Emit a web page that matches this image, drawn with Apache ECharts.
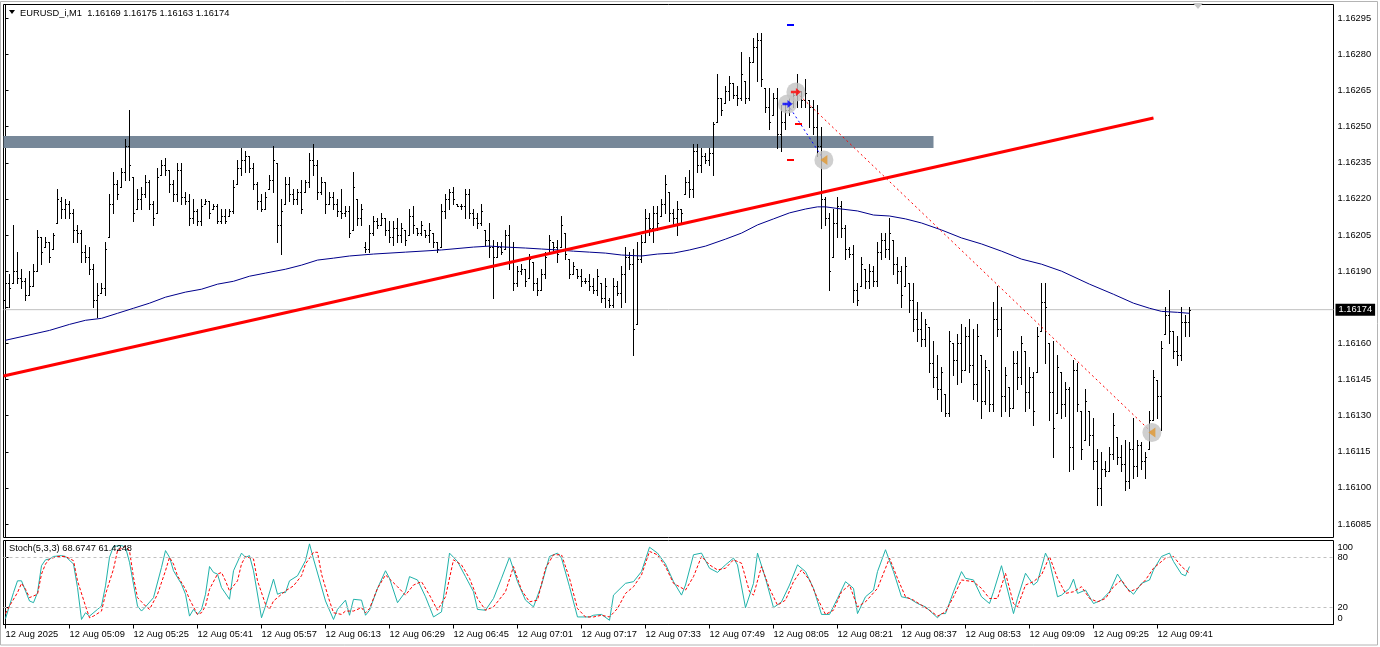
<!DOCTYPE html>
<html><head><meta charset="utf-8">
<script src="https://cdn.jsdelivr.net/npm/echarts@6.0.0/dist/echarts.min.js"></script>
<style>html,body{margin:0;padding:0;background:#fff}#c{width:1380px;height:647px}</style>
</head><body><div id="c"></div>
<script>
const SYMBOL = 'EURUSD_i,M1';
const OPEN = [
1.16178,1.16185,1.16185,1.16190,1.16187,1.16186,1.16180,1.16184,1.16190,1.16204,
1.16200,1.16202,1.16199,1.16210,1.16219,1.16216,1.16218,1.16214,1.16207,1.16206,
1.16198,1.16196,1.16191,1.16178,1.16181,1.16183,1.16204,1.16218,1.16226,1.16225,
1.16231,1.16242,1.16229,1.16216,1.16220,1.16222,1.16227,1.16218,1.16214,1.16230,
1.16234,1.16232,1.16226,1.16222,1.16232,1.16221,1.16219,1.16212,1.16215,1.16211,
1.16218,1.16219,1.16216,1.16217,1.16211,1.16213,1.16213,1.16215,1.16226,1.16233,
1.16236,1.16238,1.16233,1.16226,1.16219,1.16216,1.16224,1.16228,1.16235,1.16209,
1.16218,1.16226,1.16222,1.16220,1.16223,1.16223,1.16227,1.16236,1.16234,1.16223,
1.16227,1.16218,1.16221,1.16218,1.16215,1.16214,1.16215,1.16207,1.16220,1.16212,
1.16200,1.16199,1.16206,1.16211,1.16209,1.16212,1.16207,1.16204,1.16208,1.16205,
1.16207,1.16205,1.16213,1.16208,1.16206,1.16207,1.16205,1.16206,1.16202,1.16200,
1.16215,1.16220,1.16223,1.16218,1.16217,1.16217,1.16222,1.16214,1.16212,1.16210,
1.16207,1.16203,1.16200,1.16196,1.16200,1.16199,1.16205,1.16194,1.16185,1.16190,
1.16191,1.16187,1.16194,1.16185,1.16182,1.16189,1.16197,1.16202,1.16200,1.16200,
1.16206,1.16195,1.16189,1.16191,1.16188,1.16186,1.16186,1.16184,1.16182,1.16185,
1.16179,1.16178,1.16176,1.16184,1.16181,1.16189,1.16196,1.16193,1.16168,1.16195,
1.16202,1.16212,1.16208,1.16214,1.16213,1.16218,1.16223,1.16214,1.16212,1.16216,
1.16222,1.16227,1.16224,1.16240,1.16234,1.16238,1.16236,1.16239,1.16252,1.16262,
1.16260,1.16265,1.16268,1.16263,1.16262,1.16269,1.16262,1.16277,1.16283,1.16286,
1.16266,1.16258,1.16255,1.16262,1.16247,1.16252,1.16257,1.16260,1.16263,1.16265,
1.16261,1.16261,1.16258,1.16250,1.16242,1.16220,1.16212,1.16196,1.16210,1.16217,
1.16208,1.16199,1.16197,1.16182,1.16184,1.16191,1.16186,1.16190,1.16186,1.16198,
1.16203,1.16199,1.16203,1.16193,1.16190,1.16184,1.16185,1.16178,1.16170,1.16166,
1.16162,1.16167,1.16152,1.16146,1.16141,1.16139,1.16131,1.16160,1.16153,1.16160,
1.16149,1.16163,1.16151,1.16143,1.16155,1.16136,1.16149,1.16135,1.16170,1.16166,
1.16138,1.16142,1.16133,1.16152,1.16146,1.16157,1.16140,1.16146,1.16148,1.16165,
1.16177,1.16160,1.16140,1.16131,1.16148,1.16135,1.16141,1.16117,1.16149,1.16132,
1.16120,1.16132,1.16122,1.16111,1.16100,1.16108,1.16107,1.16114,1.16121,1.16113,
1.16110,1.16103,1.16116,1.16109,1.16118,1.16111,1.16116,1.16128,1.16145,1.16138,
1.16164,1.16172,1.16165,1.16157,1.16155,1.16169,1.16169];
const HIGH = [
1.16193,1.16189,1.16209,1.16198,1.16191,1.16187,1.16190,1.16193,1.16207,1.16204,
1.16204,1.16202,1.16206,1.16224,1.16221,1.16220,1.16219,1.16216,1.16209,1.16207,
1.16201,1.16200,1.16193,1.16185,1.16185,1.16202,1.16222,1.16231,1.16228,1.16233,
1.16245,1.16257,1.16229,1.16224,1.16225,1.16230,1.16228,1.16219,1.16233,1.16236,
1.16237,1.16232,1.16228,1.16235,1.16235,1.16223,1.16222,1.16220,1.16216,1.16220,
1.16220,1.16219,1.16218,1.16218,1.16216,1.16216,1.16216,1.16228,1.16236,1.16241,
1.16240,1.16238,1.16235,1.16227,1.16222,1.16223,1.16230,1.16242,1.16235,1.16220,
1.16229,1.16229,1.16224,1.16224,1.16228,1.16228,1.16239,1.16243,1.16236,1.16229,
1.16227,1.16223,1.16223,1.16220,1.16224,1.16217,1.16217,1.16231,1.16220,1.16218,
1.16202,1.16209,1.16213,1.16212,1.16214,1.16212,1.16211,1.16211,1.16212,1.16210,
1.16207,1.16216,1.16217,1.16208,1.16211,1.16207,1.16210,1.16206,1.16202,1.16218,
1.16222,1.16224,1.16225,1.16218,1.16218,1.16224,1.16224,1.16216,1.16214,1.16218,
1.16207,1.16210,1.16203,1.16202,1.16202,1.16207,1.16209,1.16202,1.16192,1.16193,
1.16191,1.16197,1.16194,1.16187,1.16191,1.16198,1.16205,1.16202,1.16203,1.16213,
1.16206,1.16195,1.16194,1.16191,1.16191,1.16187,1.16189,1.16187,1.16191,1.16185,
1.16187,1.16179,1.16187,1.16186,1.16192,1.16200,1.16198,1.16199,1.16202,1.16205,
1.16216,1.16214,1.16217,1.16217,1.16220,1.16230,1.16223,1.16216,1.16219,1.16216,
1.16229,1.16232,1.16243,1.16243,1.16241,1.16239,1.16241,1.16252,1.16272,1.16262,
1.16267,1.16271,1.16268,1.16267,1.16281,1.16269,1.16279,1.16287,1.16289,1.16289,
1.16266,1.16266,1.16264,1.16266,1.16259,1.16260,1.16262,1.16264,1.16272,1.16265,
1.16270,1.16261,1.16261,1.16259,1.16250,1.16221,1.16214,1.16216,1.16221,1.16219,
1.16209,1.16200,1.16201,1.16185,1.16196,1.16191,1.16193,1.16192,1.16202,1.16206,
1.16206,1.16212,1.16203,1.16196,1.16192,1.16196,1.16185,1.16185,1.16177,1.16173,
1.16170,1.16167,1.16161,1.16155,1.16150,1.16139,1.16165,1.16160,1.16164,1.16168,
1.16167,1.16170,1.16166,1.16168,1.16155,1.16153,1.16149,1.16177,1.16184,1.16175,
1.16150,1.16142,1.16157,1.16157,1.16163,1.16157,1.16150,1.16148,1.16167,1.16185,
1.16185,1.16160,1.16161,1.16155,1.16148,1.16144,1.16142,1.16153,1.16152,1.16132,
1.16141,1.16132,1.16129,1.16116,1.16115,1.16111,1.16117,1.16131,1.16121,1.16118,
1.16120,1.16119,1.16129,1.16120,1.16119,1.16115,1.16132,1.16149,1.16145,1.16161,
1.16175,1.16182,1.16165,1.16163,1.16175,1.16172,1.16175];
const LOW = [
1.16175,1.16175,1.16185,1.16185,1.16183,1.16178,1.16180,1.16184,1.16190,1.16193,
1.16200,1.16194,1.16199,1.16210,1.16212,1.16212,1.16212,1.16202,1.16202,1.16194,
1.16194,1.16189,1.16175,1.16171,1.16181,1.16180,1.16204,1.16214,1.16220,1.16225,
1.16228,1.16228,1.16211,1.16216,1.16216,1.16221,1.16216,1.16209,1.16214,1.16230,
1.16230,1.16223,1.16219,1.16219,1.16218,1.16218,1.16209,1.16210,1.16209,1.16209,
1.16218,1.16212,1.16216,1.16210,1.16210,1.16210,1.16213,1.16214,1.16226,1.16230,
1.16231,1.16231,1.16224,1.16216,1.16215,1.16216,1.16224,1.16223,1.16202,1.16197,
1.16218,1.16219,1.16218,1.16218,1.16214,1.16223,1.16225,1.16230,1.16220,1.16222,
1.16214,1.16218,1.16216,1.16213,1.16212,1.16213,1.16204,1.16207,1.16209,1.16209,
1.16198,1.16198,1.16205,1.16208,1.16209,1.16205,1.16202,1.16201,1.16202,1.16202,
1.16201,1.16205,1.16206,1.16205,1.16205,1.16204,1.16202,1.16200,1.16198,1.16200,
1.16212,1.16216,1.16218,1.16217,1.16216,1.16212,1.16212,1.16209,1.16208,1.16209,
1.16201,1.16196,1.16179,1.16196,1.16197,1.16199,1.16191,1.16182,1.16184,1.16189,
1.16184,1.16187,1.16182,1.16180,1.16182,1.16187,1.16197,1.16198,1.16194,1.16200,
1.16195,1.16187,1.16189,1.16187,1.16184,1.16185,1.16182,1.16181,1.16180,1.16177,
1.16175,1.16175,1.16175,1.16180,1.16175,1.16177,1.16191,1.16155,1.16168,1.16194,
1.16202,1.16205,1.16202,1.16207,1.16213,1.16214,1.16211,1.16209,1.16205,1.16210,
1.16222,1.16221,1.16221,1.16231,1.16231,1.16235,1.16234,1.16230,1.16252,1.16255,
1.16260,1.16261,1.16262,1.16259,1.16261,1.16260,1.16261,1.16277,1.16269,1.16267,
1.16256,1.16249,1.16255,1.16241,1.16240,1.16249,1.16255,1.16258,1.16258,1.16258,
1.16258,1.16250,1.16247,1.16238,1.16208,1.16209,1.16182,1.16196,1.16204,1.16204,
1.16195,1.16196,1.16177,1.16176,1.16184,1.16183,1.16183,1.16184,1.16184,1.16195,
1.16196,1.16195,1.16189,1.16185,1.16175,1.16184,1.16173,1.16165,1.16161,1.16159,
1.16159,1.16148,1.16142,1.16137,1.16132,1.16130,1.16130,1.16147,1.16143,1.16144,
1.16149,1.16148,1.16137,1.16136,1.16129,1.16135,1.16132,1.16132,1.16163,1.16130,
1.16132,1.16130,1.16133,1.16141,1.16143,1.16132,1.16133,1.16126,1.16148,1.16165,
1.16152,1.16128,1.16113,1.16131,1.16129,1.16130,1.16107,1.16108,1.16132,1.16112,
1.16120,1.16118,1.16108,1.16093,1.16093,1.16105,1.16107,1.16112,1.16110,1.16107,
1.16099,1.16100,1.16104,1.16105,1.16108,1.16104,1.16116,1.16128,1.16129,1.16124,
1.16164,1.16160,1.16154,1.16151,1.16153,1.16163,1.16163];
const CLOSE = [
1.16185,1.16183,1.16190,1.16187,1.16186,1.16180,1.16184,1.16190,1.16204,1.16198,
1.16202,1.16196,1.16205,1.16220,1.16216,1.16218,1.16214,1.16207,1.16206,1.16198,
1.16196,1.16191,1.16178,1.16180,1.16183,1.16199,1.16218,1.16226,1.16222,1.16231,
1.16242,1.16234,1.16214,1.16220,1.16222,1.16227,1.16218,1.16212,1.16229,1.16234,
1.16232,1.16226,1.16222,1.16232,1.16221,1.16219,1.16212,1.16215,1.16211,1.16217,
1.16219,1.16214,1.16217,1.16211,1.16213,1.16211,1.16215,1.16225,1.16233,1.16236,
1.16238,1.16233,1.16226,1.16219,1.16216,1.16221,1.16228,1.16236,1.16209,1.16215,
1.16226,1.16222,1.16220,1.16223,1.16216,1.16227,1.16236,1.16234,1.16223,1.16227,
1.16218,1.16221,1.16218,1.16215,1.16214,1.16215,1.16206,1.16225,1.16212,1.16216,
1.16199,1.16206,1.16211,1.16209,1.16212,1.16207,1.16204,1.16208,1.16205,1.16208,
1.16203,1.16213,1.16209,1.16206,1.16209,1.16205,1.16207,1.16202,1.16199,1.16215,
1.16220,1.16223,1.16220,1.16217,1.16217,1.16222,1.16214,1.16212,1.16210,1.16215,
1.16203,1.16200,1.16196,1.16200,1.16198,1.16205,1.16194,1.16185,1.16190,1.16191,
1.16186,1.16195,1.16185,1.16182,1.16189,1.16196,1.16203,1.16200,1.16197,1.16209,
1.16197,1.16189,1.16192,1.16188,1.16186,1.16186,1.16184,1.16182,1.16188,1.16179,
1.16184,1.16176,1.16184,1.16181,1.16189,1.16196,1.16193,1.16166,1.16195,1.16202,
1.16212,1.16208,1.16214,1.16210,1.16218,1.16226,1.16214,1.16212,1.16216,1.16214,
1.16227,1.16224,1.16240,1.16234,1.16238,1.16236,1.16239,1.16251,1.16262,1.16257,
1.16265,1.16268,1.16263,1.16262,1.16272,1.16262,1.16277,1.16283,1.16286,1.16270,
1.16258,1.16252,1.16262,1.16247,1.16252,1.16257,1.16260,1.16263,1.16265,1.16261,
1.16264,1.16258,1.16250,1.16242,1.16220,1.16212,1.16190,1.16210,1.16217,1.16208,
1.16199,1.16197,1.16182,1.16178,1.16193,1.16186,1.16190,1.16186,1.16198,1.16203,
1.16199,1.16206,1.16193,1.16190,1.16180,1.16192,1.16178,1.16170,1.16166,1.16162,
1.16168,1.16152,1.16146,1.16141,1.16148,1.16131,1.16161,1.16153,1.16160,1.16149,
1.16163,1.16151,1.16143,1.16163,1.16136,1.16150,1.16135,1.16170,1.16166,1.16138,
1.16147,1.16133,1.16152,1.16146,1.16160,1.16140,1.16146,1.16132,1.16163,1.16177,
1.16175,1.16140,1.16125,1.16150,1.16135,1.16141,1.16117,1.16149,1.16135,1.16116,
1.16136,1.16122,1.16111,1.16100,1.16108,1.16107,1.16114,1.16126,1.16113,1.16110,
1.16103,1.16116,1.16109,1.16118,1.16111,1.16113,1.16128,1.16146,1.16138,1.16158,
1.16172,1.16165,1.16157,1.16155,1.16169,1.16169,1.16174];

// moving average read at bar indexes [bar, value]
const MA_POINTS = [[0,1.161613],[11,1.161654],[16,1.161679],[20,1.161696],[24,1.161704],[28,1.161725],[32,1.161746],[36,1.161767],[40,1.161792],[45,1.161813],[49,1.161825],[53,1.161846],[57,1.161858],[61,1.161879],[65,1.161892],[70,1.161908],[74,1.161925],[78,1.161946],[82,1.161954],[86,1.161963],[92,1.161971],[100,1.161979],[109,1.161988],[117,1.162000],[121,1.162004],[125,1.162000],[130,1.161996],[134,1.161992],[138,1.161988],[142,1.161983],[146,1.161979],[150,1.161975],[154,1.161967],[159,1.161963],[163,1.161971],[167,1.161975],[171,1.161988],[175,1.162004],[180,1.162033],[184,1.162058],[188,1.162092],[192,1.162117],[196,1.162142],[200,1.162158],[203,1.162167],[205,1.162167],[209,1.162158],[213,1.162150],[217,1.162133],[221,1.162129],[225,1.162117],[229,1.162100],[234,1.162071],[239,1.162038],[244,1.162013],[249,1.161983],[254,1.161950],[259,1.161929],[264,1.161900],[271,1.161846],[277,1.161804],[282,1.161767],[286,1.161746],[289,1.161733],[293,1.161729],[296,1.161725]];

const TREND_LINE = [[-0.5,1.161465],[287,1.162536]];
const ZONE = [[-0.5,232,1.162461,1.162411]];
const BUY_OPEN = [[195.5,1.162594]];
const SELL_OPEN = [[197.6,1.162644]];
const CLOSES = [[204.6,1.162362],[286.6,1.161230]];
const BLUE_LEVELS = [[195.5,1.162922]];
const RED_LEVELS = [[197.5,1.162511],[195.5,1.162362]];

const STOCH_MAIN = [[0,7],[2,38],[3,52],[4,52],[5,40],[6,28],[7,26],[8,38],[9,70],[10,77],[11,78],[12,81],[14,82],[15,81],[17,72],[18,44],[19,6],[20,14],[21,10],[23,18],[24,22],[25,46],[26,80],[27,93],[29,94],[30,92],[31,74],[33,22],[34,16],[35,21],[37,32],[39,68],[40,88],[41,80],[42,64],[44,48],[45,36],[46,10],[47,18],[48,12],[49,18],[50,36],[51,69],[52,62],[53,60],[54,44],[56,30],[57,64],[59,85],[60,80],[61,82],[62,64],[64,8],[65,22],[67,54],[68,36],[69,38],[70,38],[71,52],[73,58],[75,76],[76,96],[77,78],[80,28],[82,6],[83,18],[85,29],[86,11],[87,30],[89,29],[90,11],[91,17],[93,43],[95,64],[96,55],[98,26],[100,39],[101,57],[103,53],[105,33],[107,9],[109,15],[111,85],[113,75],[115,57],[117,39],[118,18],[120,17],[122,31],[124,55],[126,80],[128,51],[130,29],[132,21],[134,47],[136,81],[138,85],[139,79],[141,45],[143,9],[146,9],[147,11],[149,12],[151,5],[152,35],[155,49],[157,51],[159,63],[161,92],[163,85],[165,72],[167,51],[169,35],[170,47],[172,83],[174,85],[176,67],[178,62],[180,71],[182,79],[183,71],[185,20],[187,49],[188,85],[190,55],[192,20],[194,27],[196,47],[198,71],[200,63],[202,43],[204,12],[206,12],[208,31],[210,51],[212,43],[213,13],[215,33],[217,41],[218,63],[220,89],[222,63],[224,33],[226,31],[228,25],[230,21],[233,8],[234,13],[235,13],[237,39],[239,63],[240,55],[242,53],[244,33],[246,25],[247,39],[249,70],[250,51],[252,13],[253,31],[255,61],[257,47],[258,51],[260,85],[261,75],[263,33],[264,35],[266,43],[267,54],[268,37],[270,41],[272,25],[274,29],[276,39],[278,60],[280,45],[282,36],[284,49],[286,53],[287,65],[289,81],[291,85],[292,75],[294,60],[295,58],[296,69]];
const STOCH_SIGNAL = [[0,13],[1,22],[3,38],[4,49],[5,42],[6,32],[8,36],[9,60],[10,72],[11,78],[13,81],[15,81],[17,76],[18,52],[20,22],[21,8],[22,10],[24,16],[25,36],[27,66],[28,88],[30,93],[31,88],[32,56],[33,32],[35,22],[36,18],[38,36],[40,64],[41,80],[42,72],[43,58],[45,42],[46,30],[48,12],[49,14],[50,22],[51,42],[53,60],[54,62],[55,52],[56,40],[58,52],[59,72],[60,81],[62,78],[63,52],[65,24],[66,18],[67,28],[69,36],[70,40],[72,46],[74,58],[75,72],[77,86],[78,86],[79,60],[81,28],[82,14],[84,12],[85,16],[87,16],[89,20],[90,14],[91,19],[93,43],[95,59],[98,45],[100,35],[102,47],[104,51],[106,35],[108,17],[110,33],[112,77],[114,71],[116,55],[118,31],[120,17],[122,21],[125,39],[127,69],[129,41],[131,27],[133,29],[135,67],[137,83],[139,83],[141,55],[143,19],[145,9],[147,9],[149,11],[151,9],[153,19],[155,37],[157,45],[159,59],[161,87],[163,83],[165,69],[167,49],[170,41],[172,57],[174,81],[176,71],[178,65],[180,67],[182,77],[184,73],[186,39],[187,35],[189,69],[191,43],[193,23],[195,29],[197,51],[199,65],[201,53],[203,31],[205,12],[207,17],[209,39],[211,47],[213,21],[215,27],[218,43],[220,67],[221,79],[223,55],[225,33],[227,29],[229,23],[231,17],[233,10],[235,15],[237,33],[239,53],[242,51],[244,43],[246,31],[248,31],[250,61],[252,25],[253,21],[255,47],[257,51],[259,59],[261,81],[263,55],[265,37],[267,39],[269,45],[271,31],[273,27],[275,31],[277,45],[279,53],[281,39],[283,43],[285,53],[287,67],[290,79],[292,81],[294,69],[296,61]];
const STOCH_TEXT = 'Stoch(5,3,3) 68.6747 61.4248';
const STOCH_LEVELS = [20, 80];
const STOCH_TICKS = [0, 20, 80, 100];

const PRICE_TICKS = [1.16085,1.16100,1.16115,1.16130,1.16145,1.16160,1.16175,1.16190,1.16205,1.16220,1.16235,1.16250,1.16265,1.16280,1.16295];
const TIME_TICK_BARS = [0,16,32,48,64,80,96,112,128,144,160,176,192,208,224,240,256,272,288];
const TIME_TICK_TEXT = ['12 Aug 2025','12 Aug 05:09','12 Aug 05:25','12 Aug 05:41','12 Aug 05:57','12 Aug 06:13','12 Aug 06:29','12 Aug 06:45','12 Aug 07:01','12 Aug 07:17','12 Aug 07:33','12 Aug 07:49','12 Aug 08:05','12 Aug 08:21','12 Aug 08:37','12 Aug 08:53','12 Aug 09:09','12 Aug 09:25','12 Aug 09:41'];

// ---------- rendering ----------
const FONT = '"Liberation Sans", Arial, sans-serif';
const FS = 9.3;
const N = CLOSE.length;
const LAST = CLOSE[N - 1];
const barData = CLOSE.map((c, i) => [i, OPEN[i], HIGH[i], LOW[i], c]);
const Y_MIN = 1.160794, Y_MAX = 1.1630073;

function renderBar(params, api) {
  const i = api.value(0);
  const pH = api.coord([i, api.value(2)]);
  const pL = api.coord([i, api.value(3)]);
  const yO = api.coord([i, api.value(1)])[1];
  const yC = api.coord([i, api.value(4)])[1];
  const x = Math.floor(pH[0]);
  const top = Math.round(pH[1]), bot = Math.round(pL[1]);
  return {type: 'group', children: [
    {type: 'rect', shape: {x: x, y: top, width: 1, height: Math.max(1, bot - top + 1)}, style: {fill: '#000'}},
    {type: 'rect', shape: {x: x - 1, y: Math.round(yO), width: 1, height: 1}, style: {fill: '#000'}},
    {type: 'rect', shape: {x: x + 1, y: Math.round(yC), width: 1, height: 1}, style: {fill: '#000'}}
  ]};
}
function renderZone(params, api) {
  const a = api.coord([api.value(0), api.value(2)]);
  const b = api.coord([api.value(1), api.value(3)]);
  return {type: 'rect', shape: {x: a[0], y: a[1], width: b[0] - a[0], height: b[1] - a[1]}, style: {fill: '#778899'}};
}
function dashRenderer(color) {
  return function (params, api) {
    const p = api.coord([api.value(0), api.value(1)]);
    return {type: 'rect', shape: {x: Math.round(p[0]) - 1, y: Math.round(p[1]) - 1, width: 7, height: 2}, style: {fill: color}};
  };
}
const ARROW_R = 'path://M0,3 L5,3 L5,0 L10,4.5 L5,9 L5,6 L0,6 Z';
const TRI_L = 'path://M8,0 L8,10 L0,5 Z';

const chart = echarts.init(document.getElementById('c'), null, {renderer: 'canvas', width: 1380, height: 647});
const option = {
  animation: false,
  backgroundColor: '#fff',
  textStyle: {fontFamily: FONT},
  grid: [
    {left: 3.5, top: 4.5, width: 1330, height: 533, show: true, borderColor: '#000', borderWidth: 1, backgroundColor: '#fff'},
    {left: 3.5, top: 540.5, width: 1330, height: 84, show: true, borderColor: '#000', borderWidth: 1, backgroundColor: '#fff'}
  ],
  xAxis: [
    {type: 'value', gridIndex: 0, min: -0.5, max: 332, show: false},
    {type: 'value', gridIndex: 1, min: -0.5, max: 332,
      axisLine: {show: true, onZero: false, lineStyle: {color: '#000'}},
      splitLine: {show: false},
      axisTick: {show: true, customValues: TIME_TICK_BARS, length: 4, lineStyle: {color: '#000'}},
      axisLabel: {customValues: TIME_TICK_BARS, formatter: v => TIME_TICK_TEXT[TIME_TICK_BARS.indexOf(v)] || '',
        align: 'left', margin: 5, fontSize: FS, color: '#000', fontFamily: FONT, hideOverlap: false}}
  ],
  yAxis: [
    {type: 'value', gridIndex: 0, position: 'right', min: Y_MIN, max: Y_MAX,
      axisLine: {show: true, lineStyle: {color: '#000'}},
      splitLine: {show: false},
      axisTick: {show: true, customValues: PRICE_TICKS, length: 3, lineStyle: {color: '#000'}},
      axisLabel: {customValues: PRICE_TICKS, formatter: v => v.toFixed(5), margin: 4, fontSize: FS, color: '#000', fontFamily: FONT}},
    {type: 'value', gridIndex: 1, position: 'right', min: 0, max: 100,
      axisLine: {show: true, lineStyle: {color: '#000'}},
      splitLine: {show: false},
      axisTick: {show: true, customValues: STOCH_TICKS, length: 3, lineStyle: {color: '#000'}},
      axisLabel: {customValues: STOCH_TICKS, margin: 4, fontSize: FS, color: '#000', fontFamily: FONT,
        formatter: v => v === 100 ? '{t|100}' : (v === 0 ? '{b|0}' : String(v)),
        rich: {t: {padding: [13, 0, 0, 0], fontSize: FS, color: '#000', fontFamily: FONT},
               b: {padding: [0, 0, 13, 0], fontSize: FS, color: '#000', fontFamily: FONT}}}}
  ],
  graphic: [
    {type: 'rect', shape: {x: 0.5, y: 1.5, width: 1377, height: 643.5}, style: {fill: 'none', stroke: '#b4b4b4', lineWidth: 1}, silent: true, z: -1},
    {type: 'polygon', shape: {points: [[9, 10], [15, 10], [12, 14]]}, style: {fill: '#000'}, z: 10},
    {type: 'text', x: 20, y: 13, style: {text: SYMBOL + '  ' + [OPEN[N-1], HIGH[N-1], LOW[N-1], CLOSE[N-1]].map(v => v.toFixed(5)).join(' '),
      font: FS + 'px ' + FONT, fill: '#000', verticalAlign: 'middle', textVerticalAlign: 'middle'}, z: 10},
    {type: 'text', x: 9, y: 548, style: {text: STOCH_TEXT, font: FS + 'px ' + FONT, fill: '#000', verticalAlign: 'middle', textVerticalAlign: 'middle'}, z: 10},
    {type: 'polygon', shape: {points: [[1193, 3], [1203, 3], [1198, 9]]}, style: {fill: '#c8c8c8'}, z: 10}
  ],
  series: [
    {type: 'custom', name: 'zone', xAxisIndex: 0, yAxisIndex: 0, renderItem: renderZone, data: ZONE, silent: true, z: 1},
    {type: 'line', name: 'last', xAxisIndex: 0, yAxisIndex: 0, data: [[-0.5, LAST], [332, LAST]], symbol: 'none',
      lineStyle: {color: '#c0c0c0', width: 1}, silent: true, z: 1,
      endLabel: {show: true, formatter: () => LAST.toFixed(5), backgroundColor: '#000', color: '#fff',
        padding: [2, 3, 1, 3], distance: 2, fontSize: FS, fontFamily: FONT}},
    {type: 'custom', name: 'bars', xAxisIndex: 0, yAxisIndex: 0, renderItem: renderBar, data: barData,
      encode: {x: 0, y: [1, 2, 3, 4]}, silent: true, z: 2},
    {type: 'line', name: 'MA', xAxisIndex: 0, yAxisIndex: 0, data: MA_POINTS, symbol: 'none',
      lineStyle: {color: '#00008b', width: 1}, silent: true, z: 3},
    {type: 'line', name: 'trend', xAxisIndex: 0, yAxisIndex: 0, data: TREND_LINE, symbol: 'none',
      lineStyle: {color: '#ff0000', width: 3}, silent: true, z: 4},
    {type: 'line', name: 'buyPath', xAxisIndex: 0, yAxisIndex: 0, data: [BUY_OPEN[0], CLOSES[0]], symbol: 'none',
      lineStyle: {color: '#0000ff', width: 1, type: [2, 3]}, silent: true, z: 5},
    {type: 'line', name: 'sellPath', xAxisIndex: 0, yAxisIndex: 0, data: [SELL_OPEN[0], CLOSES[1]], symbol: 'none',
      lineStyle: {color: '#ff0000', width: 1, type: [2, 3]}, silent: true, z: 5},
    {type: 'custom', name: 'tpBlue', xAxisIndex: 0, yAxisIndex: 0, renderItem: dashRenderer('#0000ff'), data: BLUE_LEVELS, silent: true, z: 5},
    {type: 'custom', name: 'slRed', xAxisIndex: 0, yAxisIndex: 0, renderItem: dashRenderer('#ff0000'), data: RED_LEVELS, silent: true, z: 5},
    {type: 'scatter', name: 'rings', xAxisIndex: 0, yAxisIndex: 0, data: BUY_OPEN.concat(SELL_OPEN, CLOSES), symbol: 'circle', symbolSize: 19,
      itemStyle: {color: '#c3c3c3'}, silent: true, z: 6},
    {type: 'scatter', name: 'buy', xAxisIndex: 0, yAxisIndex: 0, data: BUY_OPEN, symbol: ARROW_R, symbolSize: [10, 8],
      itemStyle: {color: '#0000ff'}, silent: true, z: 7},
    {type: 'scatter', name: 'sell', xAxisIndex: 0, yAxisIndex: 0, data: SELL_OPEN, symbol: ARROW_R, symbolSize: [10, 8],
      itemStyle: {color: '#ff0000'}, silent: true, z: 7},
    {type: 'scatter', name: 'close', xAxisIndex: 0, yAxisIndex: 0, data: CLOSES, symbol: TRI_L, symbolSize: [7, 10],
      itemStyle: {color: '#e0962e'}, silent: true, z: 7},
    {type: 'line', name: 'main', xAxisIndex: 1, yAxisIndex: 1, data: STOCH_MAIN, symbol: 'none',
      lineStyle: {color: '#20b2aa', width: 1}, silent: true, z: 3,
      markLine: {silent: true, symbol: ['none', 'none'], label: {show: false},
        lineStyle: {color: '#c0c0c0', type: [3, 3], width: 1}, data: STOCH_LEVELS.map(v => ({yAxis: v}))}},
    {type: 'line', name: 'signal', xAxisIndex: 1, yAxisIndex: 1, data: STOCH_SIGNAL, symbol: 'none',
      lineStyle: {color: '#ff0000', width: 1, type: [3, 2]}, silent: true, z: 4}
  ]
};
chart.setOption(option);
</script>
</body></html>
